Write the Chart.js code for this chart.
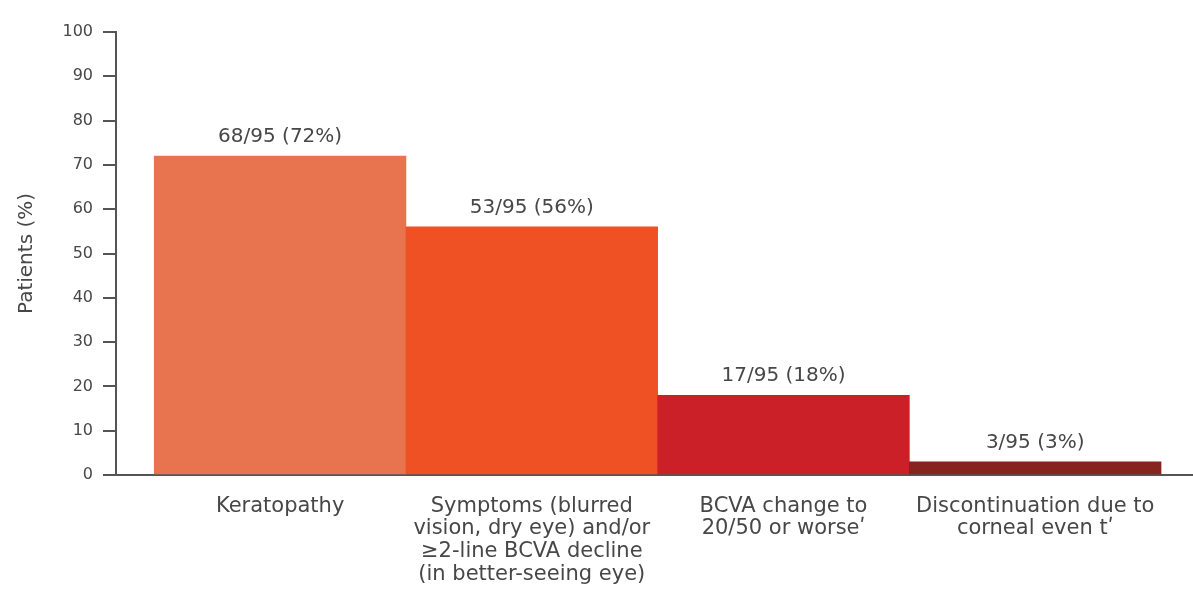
<!DOCTYPE html>
<html>
<head>
<meta charset="utf-8">
<script src="https://cdn.jsdelivr.net/npm/chart.js@4.4.1/dist/chart.umd.min.js"></script>
<style>
  html, body { margin: 0; padding: 0; background: #fff; }
  #wrap { width: 1193px; height: 602px; position: relative; }
</style>
</head>
<body>
<div id="wrap"><canvas id="BarChart"></canvas></div>
<script>
const categories = [
  ["Keratopathy"],
  ["Symptoms (blurred", "vision, dry eye) and/or", "\u22652-line BCVA decline", "(in better-seeing eye)"],
  ["BCVA change to", "20/50 or worse\u02b9"],
  ["Discontinuation due to", "corneal even t\u02b9"],
];
const patientCounts = [68, 53, 17, 3];
const totalPatients = 95;
const percentValues = [72, 56, 18, 3];
const barColors = ["#e8744f", "#ef5024", "#cb2027", "#862420"];
const yTicks = [0, 10, 20, 30, 40, 50, 60, 70, 80, 90, 100];

const textColor = "#474747";
const axisColor = "#555555";
const fontFamily = "'DejaVu Sans', sans-serif";

// "68/95 (72%)" style labels above each bar
const barLabels = {
  id: "barLabels",
  afterDatasetsDraw(chart) {
    const ctx = chart.ctx;
    const meta = chart.getDatasetMeta(0);
    ctx.save();
    ctx.font = "20px " + fontFamily;
    ctx.fillStyle = textColor;
    ctx.textAlign = "center";
    ctx.textBaseline = "middle";
    meta.data.forEach((bar, i) => {
      const text = patientCounts[i] + "/" + totalPatients + " (" + percentValues[i] + "%)";
      ctx.fillText(text, bar.x, bar.y - 19);
    });
    ctx.restore();
  },
};

let myBarChart = null;

const initializeChart = () => {
  const ctx = document.getElementById("BarChart").getContext("2d");

  const data = {
    datasets: [
      {
        data: percentValues.map((v, i) => ({ x: i, y: v })),
        backgroundColor: barColors,
        borderWidth: 0,
        barPercentage: 1,
        categoryPercentage: 1,
      },
    ],
  };

  const options = {
    responsive: true,
    maintainAspectRatio: false,
    animation: false,
    layout: { padding: { top: 32, right: 0, bottom: 0, left: 0 } },
    plugins: {
      legend: { display: false },
      tooltip: { enabled: false },
    },
    scales: {
      x: {
        type: "linear",
        offset: false,
        min: -0.652,
        max: 3.627,
        z: 1,
        afterBuildTicks: (scale) => {
          scale.ticks = categories.map((c, i) => ({ value: i }));
        },
        afterFit: (scale) => {
          scale.height = 127;
        },
        grid: { display: false, drawTicks: false, offset: false },
        border: { display: true, color: axisColor, width: 2 },
        ticks: {
          padding: 20,
          color: textColor,
          font: { family: fontFamily, size: 21, lineHeight: 1.08 },
          maxRotation: 0,
          autoSkip: false,
          callback: (value) => categories[value] || "",
        },
      },
      y: {
        min: 0,
        max: 100,
        z: 1,
        afterBuildTicks: (scale) => {
          scale.ticks = yTicks.map((v) => ({ value: v }));
        },
        afterFit: (scale) => {
          scale.width = 116;
        },
        grid: {
          drawOnChartArea: false,
          drawTicks: true,
          tickLength: 13,
          color: axisColor,
          lineWidth: 2,
        },
        border: { display: true, color: axisColor, width: 2 },
        ticks: {
          padding: 10,
          color: textColor,
          font: { family: fontFamily, size: 16 },
        },
        title: {
          display: true,
          text: "Patients (%)",
          color: textColor,
          font: { family: fontFamily, size: 20, lineHeight: 1.2 },
          padding: { top: 15, bottom: 0 },
        },
      },
    },
  };

  myBarChart = new Chart(ctx, {
    type: "bar",
    data: data,
    options: options,
    plugins: [barLabels],
  });
};

initializeChart();
</script>
</body>
</html>
